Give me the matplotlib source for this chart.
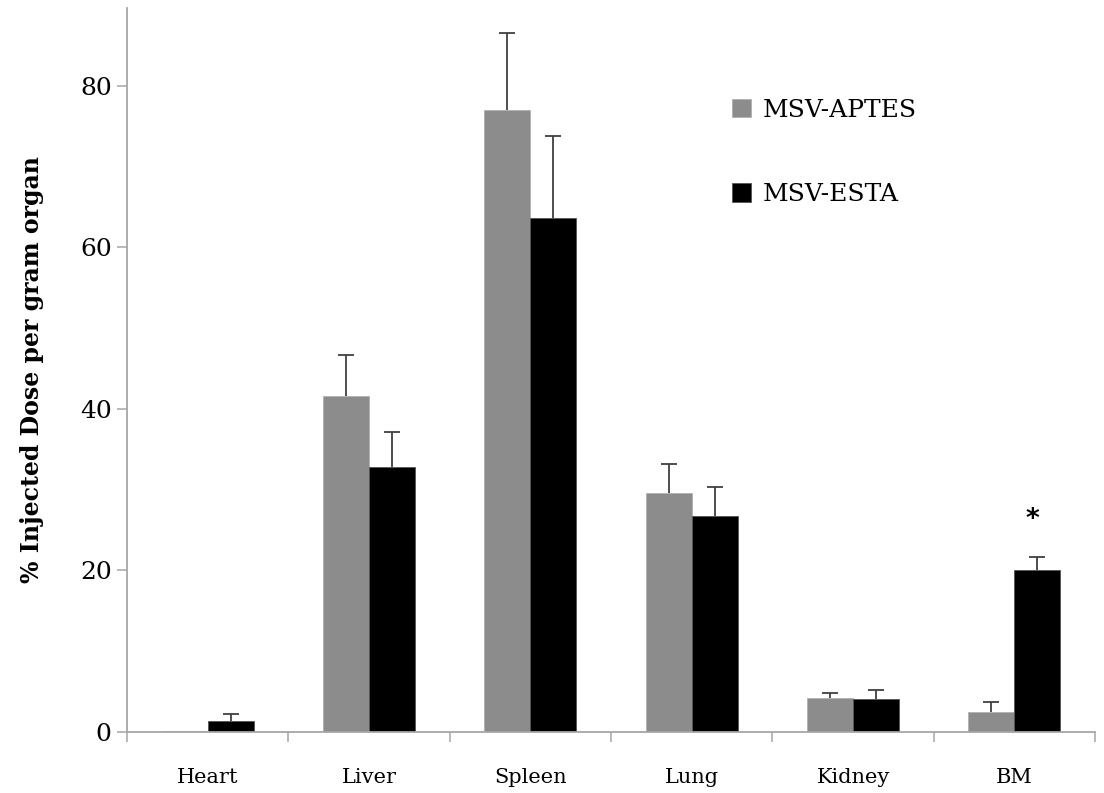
import matplotlib.pyplot as plt
import numpy as np

# data
organs = ["Heart", "Liver", "Spleen", "Lung", "Kidney", "BM"]
aptes = [0.1, 41.6, 77.0, 29.6, 4.2, 2.5]
aptes_err = [0.0, 5.1, 9.5, 3.6, 0.6, 1.2]
esta = [1.35, 32.8, 63.6, 26.7, 4.05, 20.1]
esta_err = [0.85, 4.3, 10.2, 3.6, 1.2, 1.6]
star_y = 26.3

plt.rcParams['font.family'] = ['DejaVu Serif']

fig = plt.figure(figsize=(11.04, 7.93), dpi=100)
ax = fig.add_axes([0.115, 0.077, 0.877, 0.9135])

x = np.arange(len(organs))
w = 0.285
axis_col = '#a6a6a6'

ax.bar(x - w / 2, aptes, w, color='#8c8c8c', edgecolor='#b0b0b0', linewidth=0.6,
       label='MSV-APTES', zorder=2)
ax.bar(x + w / 2, esta, w, color='black', edgecolor='#555555', linewidth=0.6,
       label='MSV-ESTA', zorder=2)

# one-sided error bars (upper cap only)
for xs, vals, errs in [(x - w / 2, aptes, aptes_err), (x + w / 2, esta, esta_err)]:
    errs = np.array(errs)
    keep = errs > 0
    _, caps, _ = ax.errorbar(xs[keep], np.array(vals)[keep],
                             yerr=[np.zeros(keep.sum()), errs[keep]],
                             fmt='none', ecolor='#404040', elinewidth=1.3,
                             capsize=6, capthick=1.3, zorder=3)
    caps[0].set_visible(False)

ax.text(x[-1] + w / 2 - 0.03, star_y, '*', ha='center', va='center', fontsize=19,
        fontweight='bold', family='DejaVu Sans')

ax.set_xlim(-0.5, len(organs) - 0.5)
ax.set_ylim(0, 89.7)
ax.set_yticks([0, 20, 40, 60, 80])
ax.set_xticks(x)
ax.set_xticklabels(organs, fontsize=15)
ax.set_xticks(np.arange(-0.5, len(organs)), minor=True)
ax.tick_params(axis='x', which='major', length=0, pad=26)
ax.tick_params(axis='x', which='minor', length=7, direction='out', color=axis_col, width=1.1)
ax.tick_params(axis='y', length=7, direction='out', color=axis_col, width=1.1,
               labelsize=18, pad=4)

for s in ['top', 'right']:
    ax.spines[s].set_visible(False)
for s in ['left', 'bottom']:
    ax.spines[s].set_color(axis_col)
    ax.spines[s].set_linewidth(1.3)

ax.set_ylabel('% Injected Dose per gram organ', fontsize=17, fontweight='bold',
              labelpad=26)

leg = ax.legend(loc='upper left', bbox_to_anchor=(0.602, 0.905), frameon=False,
                fontsize=18, handlelength=0.75, handleheight=0.75,
                handletextpad=0.45, labelspacing=2.45)

fig.savefig('out.png', dpi=100)
